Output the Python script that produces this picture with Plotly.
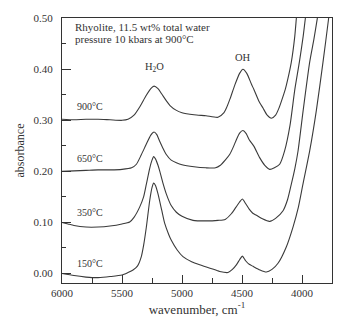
import plotly.graph_objects as go

# IR absorbance spectra of hydrous rhyolite glass, offset by temperature
wn_900 = [6000, 5900, 5800, 5700, 5600, 5500, 5450, 5400, 5350, 5300, 5260, 5233, 5200, 5170,
          5130, 5100, 5050, 5000, 4900, 4800, 4700, 4650, 4630, 4600, 4560, 4520, 4492, 4460,
          4420, 4400, 4360, 4325, 4290, 4255, 4220, 4190, 4172, 4140, 4117, 4089, 4060, 4047, 4035]
abs_900 = [0.302, 0.301, 0.302, 0.302, 0.301, 0.300, 0.302, 0.310, 0.327, 0.348, 0.362, 0.367, 0.362, 0.352,
           0.338, 0.329, 0.320, 0.315, 0.311, 0.309, 0.306, 0.315, 0.324, 0.342, 0.369, 0.392, 0.400, 0.392,
           0.370, 0.360, 0.338, 0.324, 0.310, 0.304, 0.310, 0.325, 0.337, 0.360, 0.382, 0.414, 0.465, 0.500, 0.530]

wn_650 = [6000, 5900, 5800, 5700, 5600, 5500, 5420, 5380, 5340, 5300, 5260, 5233, 5210, 5186,
          5160, 5131, 5090, 5047, 5000, 4900, 4800, 4720, 4680, 4640, 4603, 4570, 4547, 4520,
          4492, 4465, 4440, 4400, 4353, 4310, 4269, 4230, 4186, 4145, 4100, 4060, 4022, 3990, 3972, 3960]
abs_650 = [0.200, 0.201, 0.202, 0.203, 0.203, 0.204, 0.207, 0.214, 0.232, 0.252, 0.271, 0.277, 0.272, 0.259,
           0.246, 0.233, 0.222, 0.217, 0.213, 0.209, 0.207, 0.207, 0.212, 0.222, 0.233, 0.249, 0.262, 0.275,
           0.280, 0.274, 0.262, 0.249, 0.227, 0.212, 0.204, 0.207, 0.214, 0.240, 0.290, 0.360, 0.414, 0.465, 0.500, 0.525]

wn_350 = [6000, 5950, 5900, 5800, 5700, 5600, 5500, 5436, 5400, 5353, 5320, 5297, 5270, 5250,
          5236, 5220, 5200, 5186, 5160, 5131, 5090, 5047, 5000, 4908, 4800, 4700, 4640, 4589,
          4550, 4520, 4497, 4470, 4440, 4410, 4380, 4330, 4269, 4220, 4158, 4120, 4089, 4060,
          4033, 3990, 3936, 3900, 3872, 3860]
abs_350 = [0.100, 0.097, 0.094, 0.091, 0.091, 0.093, 0.097, 0.101, 0.110, 0.130, 0.150, 0.175, 0.205, 0.222,
           0.229, 0.224, 0.212, 0.201, 0.178, 0.156, 0.133, 0.120, 0.112, 0.104, 0.103, 0.104, 0.106, 0.117,
           0.130, 0.140, 0.146, 0.137, 0.126, 0.118, 0.114, 0.107, 0.102, 0.108, 0.123, 0.145, 0.175, 0.205,
           0.240, 0.320, 0.414, 0.460, 0.500, 0.520]

wn_150 = [6000, 5900, 5800, 5750, 5700, 5600, 5500, 5450, 5408, 5370, 5339, 5320, 5297, 5269,
          5250, 5236, 5220, 5200, 5170, 5144, 5110, 5089, 5040, 4992, 4920, 4853, 4760, 4686,
          4617, 4580, 4547, 4520, 4497, 4470, 4440, 4408, 4350, 4297, 4250, 4200, 4131, 4075,
          4030, 3992, 3936, 3880, 3825, 3778, 3770]
abs_150 = [0.000, -0.004, -0.007, -0.008, -0.008, -0.006, -0.003, 0.002, 0.007, 0.015, 0.033, 0.055, 0.091, 0.143,
           0.168, 0.177, 0.172, 0.156, 0.125, 0.098, 0.076, 0.065, 0.046, 0.033, 0.023, 0.017, 0.010, 0.004,
           0.002, 0.008, 0.017, 0.027, 0.034, 0.025, 0.018, 0.014, 0.007, 0.003, 0.008, 0.020, 0.052, 0.091,
           0.130, 0.175, 0.240, 0.320, 0.414, 0.500, 0.520]

temp_labels = ["900°C", "650°C", "350°C", "150°C"]
label_levels = [0.327, 0.226, 0.120, 0.019]

x_ticks = [6000, 5500, 5000, 4500, 4000]
y_ticks = [0.00, 0.10, 0.20, 0.30, 0.40, 0.50]

FONT = "Liberation Serif"
INK = "#333333"

fig = go.Figure()
for wn, ab in [(wn_900, abs_900), (wn_650, abs_650), (wn_350, abs_350), (wn_150, abs_150)]:
    fig.add_trace(go.Scatter(
        x=wn, y=ab, mode="lines",
        line=dict(color="#3a3a3a", width=1.1, shape="spline", smoothing=0.6),
        showlegend=False, hoverinfo="skip",
    ))

for txt, lvl in zip(temp_labels, label_levels):
    fig.add_annotation(x=5895, y=lvl, xref="x", yref="y", text=txt, showarrow=False,
                       xanchor="left", yanchor="middle", font=dict(family=FONT, size=10, color=INK))

fig.add_annotation(x=5912, y=0.483, xref="x", yref="y", text="Rhyolite, 11.5 wt% total water",
                   showarrow=False, xanchor="left", yanchor="middle",
                   font=dict(family=FONT, size=11, color=INK))
fig.add_annotation(x=5912, y=0.460, xref="x", yref="y", text="pressure 10 kbars at 900°C",
                   showarrow=False, xanchor="left", yanchor="middle",
                   font=dict(family=FONT, size=11, color=INK))
fig.add_annotation(x=5233, y=0.404, xref="x", yref="y", text="H<sub>2</sub>O",
                   showarrow=False, xanchor="center", yanchor="middle",
                   font=dict(family=FONT, size=10.5, color=INK))
fig.add_annotation(x=4492, y=0.424, xref="x", yref="y", text="OH",
                   showarrow=False, xanchor="center", yanchor="middle",
                   font=dict(family=FONT, size=10.5, color=INK))

fig.update_xaxes(
    range=[6000, 3750], tickvals=x_ticks, ticktext=[str(v) for v in x_ticks],
    ticks="inside", ticklen=8, tickwidth=1, tickcolor=INK,
    minor=dict(ticks="inside", ticklen=5, tickwidth=1, tickcolor=INK, dtick=250, tick0=3750, showgrid=False),
    showline=True, linecolor=INK, linewidth=1.2, mirror=True, showgrid=False, zeroline=False,
    tickfont=dict(family=FONT, size=11, color=INK),
    title=dict(text="wavenumber, cm<sup>-1</sup>", font=dict(family=FONT, size=13, color=INK), standoff=6),
)
fig.update_yaxes(
    range=[-0.0186, 0.5004], tickvals=y_ticks, ticktext=[f"{v:.2f}" for v in y_ticks],
    ticks="inside", ticklen=9, tickwidth=1, tickcolor=INK,
    minor=dict(ticks="inside", ticklen=4, tickwidth=1, tickcolor=INK, dtick=0.05, tick0=0, showgrid=False),
    showline=True, linecolor=INK, linewidth=1.2, mirror=True, showgrid=False, zeroline=False,
    tickfont=dict(family=FONT, size=11, color=INK), ticklabelstandoff=6,
    title=dict(text="absorbance", font=dict(family=FONT, size=12, color=INK), standoff=6),
)
fig.update_layout(
    width=350, height=329,
    margin=dict(l=62, r=18, t=15, b=46),
    paper_bgcolor="white", plot_bgcolor="white",
)
fig.write_html("out.html")
